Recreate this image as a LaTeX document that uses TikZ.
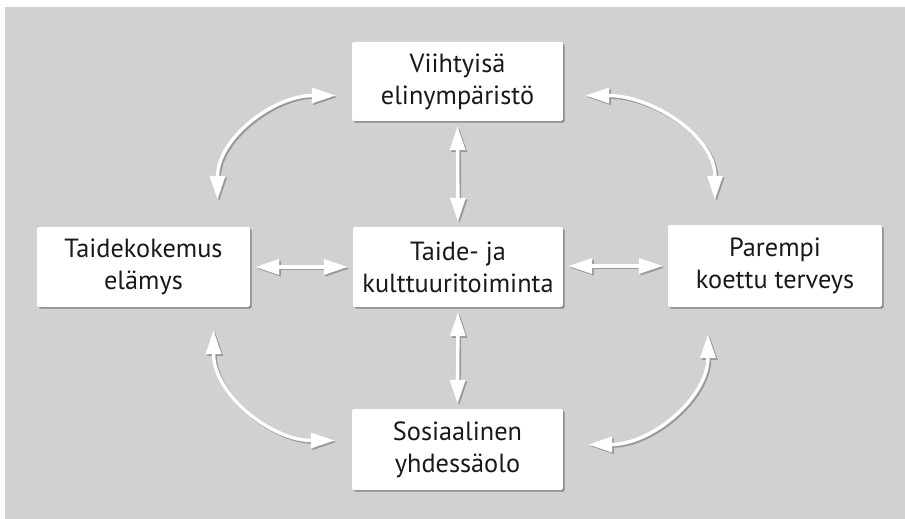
\documentclass[tikz,border=0pt]{standalone}
\usepackage{fontspec}
\setmainfont{PT Sans}
\usetikzlibrary{arrows.meta,shadows,calc}
\definecolor{bggray}{RGB}{209,209,209}
\definecolor{txt}{RGB}{25,25,25}
\newcommand\twinarrow[1]{%
  \draw[arrshadow] #1;
  \draw[arrmain] #1;}
\begin{document}
\begin{tikzpicture}[x=1pt,y=-1pt,
  box/.style={rectangle, rounded corners=2pt, fill=white, draw=none,
    drop shadow={shadow xshift=1.6pt, shadow yshift=-1.6pt, fill=black!55, opacity=0.8},
    align=center, text=txt, font=\fontsize{26.3}{32}\selectfont, inner sep=0pt},
  arrmain/.style={white, line width=3.4pt,
    {Triangle[length=24pt,width=15pt]}-{Triangle[length=24pt,width=15pt]}},
  arrshadow/.style={black!40, line width=3.4pt,
    {Triangle[length=24pt,width=15pt]}-{Triangle[length=24pt,width=15pt]},
    transform canvas={shift={(1.6pt,-1.6pt)}}},
  straight/.style={shorten <=5pt, shorten >=5pt}]
\useasboundingbox (0,0) rectangle (905,519);
\fill[white] (0,0) rectangle (905,519);
\fill[bggray] (5,7) rectangle (905,519);

\node[box, minimum width=211pt, minimum height=79pt] (top) at (457.5,81.5) {Viihtyisä\\elinympäristö};
\node[box, minimum width=213pt, minimum height=80pt] (lft) at (143.5,267) {Taidekokemus\\elämys};
\node[box, minimum width=210pt, minimum height=80pt] (mid) at (458,267) {Taide- ja\\kulttuuritoiminta};
\node[box, minimum width=214pt, minimum height=82pt] (rgt) at (775,266) {Parempi\\koettu terveys};
\node[box, minimum width=211pt, minimum height=81pt] (bot) at (457.5,449.5) {Sosiaalinen\\yhdessäolo};

% end points of the curved connectors
\coordinate (tlA) at ($(lft.north)+(74,-27)$);
\coordinate (tlB) at ($(top.west)+(-16,14)$);
\coordinate (trA) at ($(top.east)+(22,14)$);
\coordinate (trB) at ($(rgt.north)+(-60,-25)$);
\coordinate (blA) at ($(lft.south)+(70,23)$);
\coordinate (blB) at ($(bot.west)+(-17,-9)$);
\coordinate (brA) at ($(bot.east)+(25,-5)$);
\coordinate (brB) at ($(rgt.south)+(-67,27)$);

\twinarrow{[straight] (top.south) -- (mid.north)}
\twinarrow{[straight] (mid.south) -- (bot.north)}
\twinarrow{[straight] (lft.east) -- (mid.west)}
\twinarrow{[straight] ([yshift=1pt]mid.east) -- (rgt.west)}

\twinarrow{(tlA) to[out=90,in=180] (tlB)}
\twinarrow{(trA) to[out=0,in=90] (trB)}
\twinarrow{(blA) to[out=-90,in=180] (blB)}
\twinarrow{(brA) to[out=0,in=-90] (brB)}
\end{tikzpicture}
\end{document}
